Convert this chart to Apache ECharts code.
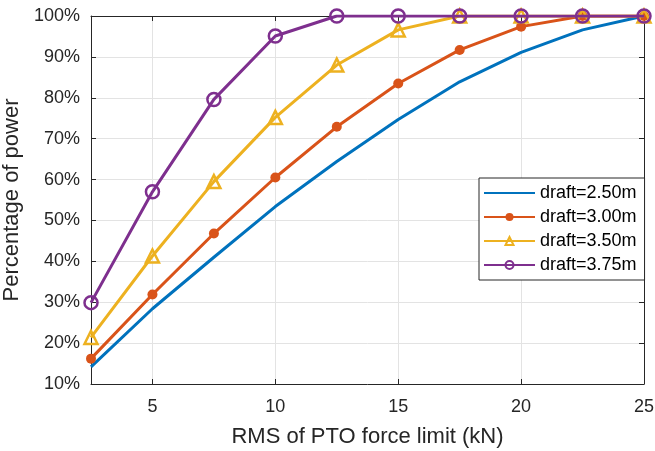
<!DOCTYPE html>
<html>
<head>
<meta charset="utf-8">
<script src="https://cdn.jsdelivr.net/npm/echarts@6/dist/echarts.min.js"></script>
<style>
  html, body { margin: 0; padding: 0; background: #fff; }
  #chart { width: 655px; height: 451px; }
</style>
</head>
<body>
<div id="chart"></div>
<script>
// RMS of PTO force limit (kN)
var forceLimit = [2.5, 5, 7.5, 10, 12.5, 15, 17.5, 20, 22.5, 25];
// Percentage of power captured for each draft
var draft250 = [14.2, 28.4, 41.0, 53.4, 64.4, 74.7, 83.9, 91.1, 96.6, 100];
var draft300 = [16.2, 31.9, 46.8, 60.5, 72.9, 83.5, 91.7, 97.4, 100, 100];
var draft350 = [21.4, 41.3, 59.5, 75.2, 88.0, 96.6, 100, 100, 100, 100];
var draft375 = [29.9, 57.0, 79.6, 95.1, 100, 100, 100, 100, 100, 100];
var seriesNames = ['draft=2.50m', 'draft=3.00m', 'draft=3.50m', 'draft=3.75m'];
var xTicks = [5, 10, 15, 20, 25];

var INK = '#262626';
var GRID = '#e3e3e3';
var FONT = 'Liberation Sans, Arial, Helvetica, sans-serif';

function pairs(ys) {
  return forceLimit.map(function (x, i) { return [x, ys[i]]; });
}

var chart = echarts.init(document.getElementById('chart'), null, { renderer: 'canvas' });

var baseX = {
  type: 'value', min: 2.5, max: 25,
  axisLine: { show: true, onZero: false, lineStyle: { color: INK, width: 1 } },
  axisTick: { show: true, inside: true, length: 5, customValues: xTicks, lineStyle: { color: INK } },
  axisLabel: { show: true, customValues: xTicks, color: INK, fontSize: 18, fontFamily: FONT, margin: 14 },
  splitLine: { show: true, lineStyle: { color: GRID, width: 1 } }
};
var baseY = {
  type: 'value', min: 10, max: 100, interval: 10,
  axisLine: { show: true, onZero: false, lineStyle: { color: INK, width: 1 } },
  axisTick: { show: true, inside: true, length: 5, lineStyle: { color: INK } },
  axisLabel: { show: true, formatter: '{value}%', color: INK, fontSize: 18, fontFamily: FONT, margin: 11 },
  splitLine: { show: true, lineStyle: { color: GRID, width: 1 } }
};

var option = {
  backgroundColor: '#fff',
  animation: false,
  grid: { left: 91, right: 11, top: 16, bottom: 67, containLabel: false, outerBoundsMode: 'none' },
  xAxis: [
    Object.assign({}, baseX, {
      position: 'bottom',
      name: 'RMS of PTO force limit (kN)',
      nameLocation: 'middle', nameGap: 42,
      nameTextStyle: { color: INK, fontSize: 22, fontFamily: FONT }
    }),
    Object.assign({}, baseX, {
      position: 'top',
      axisLabel: { show: false },
      splitLine: { show: false }
    })
  ],
  yAxis: [
    Object.assign({}, baseY, {
      position: 'left',
      name: 'Percentage of power',
      nameLocation: 'middle', nameGap: 58,
      nameTextStyle: { color: INK, fontSize: 22, fontFamily: FONT }
    }),
    Object.assign({}, baseY, {
      position: 'right',
      axisLabel: { show: false },
      splitLine: { show: false }
    })
  ],
  legend: {
    orient: 'vertical',
    left: 479, top: 178,
    padding: [5, 8, 5, 4],
    itemWidth: 51, itemHeight: 10, itemGap: 4,
    backgroundColor: '#fff',
    borderColor: INK, borderWidth: 1, borderRadius: 0,
    textStyle: { color: '#000', fontSize: 18, fontFamily: FONT, lineHeight: 20 },
    data: seriesNames
  },
  series: [
    {
      name: seriesNames[0], type: 'line', data: pairs(draft250),
      showSymbol: false, symbol: 'none',
      lineStyle: { color: '#0072BD', width: 3 },
      itemStyle: { color: 'rgba(0,0,0,0)', borderWidth: 0 }, z: 2
    },
    {
      name: seriesNames[1], type: 'line', data: pairs(draft300),
      symbol: 'circle', symbolSize: 10,
      lineStyle: { color: '#D95319', width: 3 },
      itemStyle: { color: '#D95319' }, z: 3
    },
    {
      name: seriesNames[2], type: 'line', data: pairs(draft350),
      symbol: 'triangle', symbolSize: 13,
      lineStyle: { color: '#EDB120', width: 3 },
      itemStyle: { color: 'rgba(255,255,255,0)', borderColor: '#EDB120', borderWidth: 2.5 }, z: 4
    },
    {
      name: seriesNames[3], type: 'line', data: pairs(draft375),
      symbol: 'circle', symbolSize: 13,
      lineStyle: { color: '#7E2F8E', width: 3 },
      itemStyle: { color: 'rgba(255,255,255,0)', borderColor: '#7E2F8E', borderWidth: 2.5 }, z: 5
    }
  ]
};

chart.setOption(option);
</script>
</body>
</html>
